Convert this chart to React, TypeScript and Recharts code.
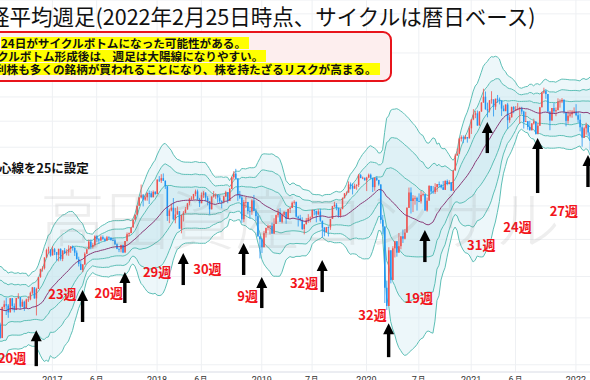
import React from 'react';
import { ComposedChart, Bar, Area, Line, XAxis, YAxis, CartesianGrid, ReferenceDot } from 'recharts';

// Nikkei 225 weekly, values in thousand yen.
// closes before the first visible week, only used to warm up the 25-week bands (2016-01-18 .. 2016-06-27)
const warmupCloses = [16.96, 17.52, 16.82, 14.95, 15.97, 16.19, 17.01, 16.94, 16.72, 17.0, 16.16, 15.82, 16.85, 17.57, 16.67, 16.11, 16.41, 16.74, 16.83, 16.64, 16.6, 15.6, 14.95, 15.68];

// visible weeks: [high, low, close]; open is taken as the previous close
const w2016 = [[15.78,15.08,15.11],[16.52,15.1,16.5],[16.81,16.38,16.63],[16.94,16.13,16.57],[16.64,16.0,16.25],[16.92,16.32,16.92],[16.92,16.35,16.55],[16.67,16.25,16.36],[16.93,16.48,16.93],[17.16,16.88,16.97],[16.94,16.4,16.52],[16.86,16.5,16.75],[16.8,16.32,16.45],[16.9,16.51,16.86],[17.02,16.74,16.86],[17.24,16.82,17.18],[17.47,17.1,17.45],[17.43,16.9,16.91],[17.43,16.11,17.37],[17.97,17.53,17.97],[18.4,17.93,18.38],[18.53,18.25,18.43],[19.0,18.36,19.0],[19.48,18.98,19.4],[19.59,19.21,19.43],[19.45,19.04,19.11]];
const w2017 = [[19.62,19.3,19.45],[19.52,19.13,19.29],[19.3,18.82,19.14],[19.48,18.79,19.47],[19.5,18.83,18.92],[19.39,18.8,19.38],[19.52,19.19,19.23],[19.45,19.11,19.28],[19.67,19.09,19.47],[19.62,19.25,19.6],[19.66,19.37,19.52],[19.57,19.08,19.26],[19.38,18.89,18.91],[19.04,18.52,18.66],[18.83,18.33,18.34],[18.65,18.22,18.62],[19.28,18.78,19.2],[19.45,19.23,19.45],[19.99,19.77,19.88],[19.99,19.45,19.59],[19.81,19.49,19.69],[20.24,19.6,20.18],[20.24,19.85,20.01],[20.08,19.75,19.94],[20.23,19.9,20.13],[20.23,19.96,20.03],[20.1,19.86,19.93],[20.2,19.94,20.12],[20.18,19.98,20.1],[20.12,19.94,19.96],[20.08,19.91,19.95],[20.06,19.68,19.73],[19.78,19.45,19.47],[19.5,19.29,19.45],[19.69,19.28,19.69],[19.62,19.24,19.27],[19.91,19.26,19.91],[20.4,19.88,20.3],[20.4,20.16,20.36],[20.7,20.4,20.69],[21.16,20.81,21.16],[21.46,21.22,21.46],[22.01,21.68,22.01],[22.54,22.05,22.54],[23.38,22.47,22.68],[22.76,21.97,22.4],[22.68,22.32,22.55],[22.87,22.33,22.82],[22.99,22.12,22.81],[22.94,22.54,22.55],[22.99,22.63,22.9],[22.94,22.71,22.76]];
const w2018 = [[23.73,23.07,23.71],[23.95,23.55,23.65],[24.08,23.49,23.81],[24.13,23.63,23.63],[23.66,23.09,23.27],[23.16,21.08,21.38],[21.83,20.95,21.72],[22.15,21.66,21.89],[22.5,21.14,21.18],[21.88,20.94,21.47],[21.97,21.46,21.68],[21.59,20.62,20.62],[21.45,20.35,21.45],[21.68,21.05,21.57],[21.93,21.54,21.78],[22.19,21.77,22.16],[22.48,22.04,22.47],[22.61,22.38,22.47],[22.77,22.39,22.76],[23.05,22.61,22.93],[23.05,22.35,22.45],[22.51,21.93,22.17],[22.86,22.3,22.69],[22.95,22.5,22.85],[22.87,22.28,22.52],[22.62,22.04,22.3],[22.3,21.46,21.79],[22.6,21.83,22.6],[22.95,22.53,22.7],[22.8,22.45,22.71],[22.64,22.21,22.53],[22.7,22.18,22.3],[22.36,21.85,22.27],[22.64,22.17,22.6],[22.97,22.57,22.87],[22.78,22.17,22.31],[23.15,22.42,23.09],[23.91,23.08,23.87],[24.29,23.71,24.12],[24.45,23.73,23.78],[23.59,22.32,22.69],[22.96,22.43,22.53],[22.72,20.97,21.18],[22.39,21.0,22.24],[22.58,21.87,22.25],[22.06,21.48,21.68],[21.87,21.24,21.65],[22.43,21.45,22.35],[22.7,21.68,21.68],[21.84,21.09,21.37],[21.57,20.17,20.17],[20.21,18.95,20.01]];
const w2019 = [[20.07,19.24,19.56],[20.49,19.87,20.36],[20.67,20.11,20.67],[20.87,20.52,20.77],[20.83,20.29,20.79],[20.98,20.33,20.33],[21.24,20.4,20.9],[21.46,21.06,21.43],[21.82,21.29,21.6],[21.86,21.03,21.03],[21.55,20.94,21.45],[21.67,21.37,21.63],[21.4,20.91,21.21],[21.82,21.35,21.81],[21.92,21.56,21.87],[22.28,21.93,22.2],[22.36,22.08,22.26],[22.19,21.28,21.34],[21.4,20.75,21.25],[21.45,21.06,21.12],[21.3,20.55,20.6],[20.9,20.29,20.88],[21.26,20.95,21.12],[21.49,20.97,21.26],[21.35,21.0,21.28],[21.78,21.5,21.75],[21.7,21.42,21.69],[21.7,21.0,21.47],[21.8,21.45,21.66],[21.82,21.03,21.09],[21.1,20.11,20.68],[20.72,20.18,20.42],[20.72,20.47,20.71],[20.76,20.17,20.7],[21.2,20.55,21.2],[22.0,21.25,21.99],[22.26,21.91,22.08],[22.18,21.73,21.88],[21.89,21.28,21.41],[21.83,21.28,21.8],[22.54,22.08,22.49],[22.82,22.48,22.8],[22.93,22.67,22.85],[23.59,22.85,23.39],[23.52,23.06,23.3],[23.46,22.73,23.11],[23.44,23.18,23.29],[23.41,23.04,23.35],[24.1,23.22,24.02],[24.09,23.8,23.82],[23.92,23.74,23.84]];
const w2020 = [[23.81,23.66,23.66],[23.9,22.95,23.85],[24.12,23.8,24.04],[24.12,23.72,23.83],[23.66,22.89,23.21],[23.87,22.97,23.83],[23.94,23.62,23.69],[23.69,23.3,23.39],[23.11,20.92,21.14],[21.44,20.29,20.75],[20.35,16.69,17.43],[17.79,16.36,16.55],[19.56,16.78,19.39],[19.31,17.65,17.82],[19.62,18.0,19.5],[19.92,19.0,19.9],[19.7,19.04,19.26],[20.37,19.37,19.62],[20.18,19.45,20.18],[20.57,19.8,20.04],[20.6,20.0,20.39],[21.92,20.7,21.88],[23.18,21.92,22.86],[23.19,21.53,22.31],[22.69,21.62,22.48],[22.65,22.08,22.51],[22.59,21.71,22.31],[22.8,22.24,22.29],[22.96,22.15,22.7],[22.86,22.61,22.75],[22.73,21.71,21.71],[22.53,21.64,22.33],[23.34,22.43,23.29],[23.28,22.77,22.92],[23.28,22.77,22.88],[23.47,22.76,23.21],[23.41,22.9,23.41],[23.58,23.2,23.36],[23.4,23.12,23.2],[23.62,23.03,23.03],[23.67,23.19,23.62],[23.72,23.33,23.41],[23.67,23.4,23.52],[23.54,22.95,22.98],[24.33,22.95,24.33],[25.52,24.4,25.39],[25.91,25.42,25.53],[26.71,25.56,26.64],[26.89,26.43,26.75],[26.89,26.3,26.65],[26.91,26.59,26.76],[26.77,26.34,26.66],[27.6,26.66,27.44]];
const w2021 = [[28.14,27.0,28.14],[28.98,28.08,28.52],[28.82,28.24,28.63],[28.86,27.63,27.66],[28.8,27.81,28.78],[29.56,28.76,29.52],[30.71,29.86,30.02],[30.47,28.93,28.97],[29.52,28.31,28.86],[29.72,28.7,29.72],[30.49,29.43,29.79],[29.59,28.38,29.18],[29.85,28.92,29.85],[30.17,29.5,29.77],[29.95,29.37,29.68],[29.72,28.42,29.02],[29.28,28.82,28.81],[29.36,28.82,29.36],[29.5,27.39,28.08],[28.5,27.87,28.32],[29.19,28.28,29.15],[29.23,28.64,28.94],[29.23,28.82,28.95],[29.48,28.9,28.96],[29.17,27.8,29.07],[29.17,28.57,28.78],[28.85,27.42,27.94],[28.76,27.95,28.0],[27.83,27.33,27.55],[28.03,27.27,27.28],[27.85,27.3,27.82],[28.2,27.73,27.98],[27.88,26.95,27.01],[27.83,27.12,27.64],[29.16,27.77,29.13],[30.45,29.6,30.38],[30.8,30.28,30.5],[30.64,29.84,30.25],[30.24,28.66,28.77],[28.8,27.29,28.05],[29.07,28.06,29.07],[29.49,28.6,28.8],[29.11,28.4,28.89],[29.88,29.05,29.61],[29.8,29.1,29.61],[29.9,29.48,29.75],[29.8,28.6,28.75],[28.6,27.59,28.03],[28.86,27.8,28.44],[28.9,28.3,28.55],[28.89,28.28,28.78],[29.12,28.6,28.79]];
const w2022 = [[29.39,28.4,28.48],[28.77,27.89,28.12],[28.6,27.2,27.52],[27.7,26.04,26.72],[27.56,26.8,27.44],[27.88,26.95,27.7],[27.34,26.82,27.12],[26.8,25.78,26.48]];

// weeks with no trading (Golden Week 2019), skipped like the chart does
const closedWeeks = ['2019-04-29'];

// x-axis labels
const tickDates = ['2017-01-02', '2017-06-05', '2018-01-01', '2018-06-04', '2018-12-31', '2019-07-01', '2020-01-06', '2020-07-06', '2021-01-04', '2021-06-07', '2022-01-03'];
const tickLabels = ['2017', '6月', '2018', '6月', '2019', '7月', '2020', '7月', '2021', '6月', '2022'];

// cycle-low arrows: week, price at the arrow tip, arrow length
const arrowDates = ['2016-11-07', '2017-04-17', '2017-09-11', '2018-04-02', '2018-10-29', '2018-12-31', '2019-08-05', '2020-03-23', '2020-07-27', '2021-03-01', '2021-08-23', '2022-02-14'];
const arrowPrices = [15.45, 17.32, 18.23, 19.24, 19.8, 17.97, 18.86, 15.76, 20.54, 27.93, 26.69, 25.43];
const arrowLens = [36, 32, 31, 32, 32, 31, 32, 34, 32, 31, 55, 32];

// cycle length labels
const cycleLabels = ['20週', '23週', '20週', '29週', '30週', '9週', '32週', '32週', '19週', '31週', '24週', '27週'];
const cycleDates = ['2016-08-15', '2017-02-06', '2017-07-17', '2018-01-01', '2018-06-25', '2018-11-12', '2019-06-03', '2020-01-27', '2020-07-06', '2021-02-08', '2021-06-14', '2021-11-22'];
const cyclePrices = [14.31, 17.17, 17.22, 18.28, 18.39, 17.03, 17.67, 16.17, 16.93, 19.74, 20.77, 21.74];

const gridPrices = [14, 15, 16, 17, 18, 19, 20, 22, 24, 26, 28, 30, 32, 34, 36, 38];

const UP = '#ef5350';
const DOWN = '#2196f3';
const BAND = '#5dbfb6';

const bars = [...w2016, ...w2017, ...w2018, ...w2019, ...w2020, ...w2021, ...w2022];
const closes = [...warmupCloses, ...bars.map((b) => b[2])];

const dates: string[] = [];
{
  let t = Date.UTC(2016, 0, 18);
  while (dates.length < closes.length) {
    const d = new Date(t).toISOString().slice(0, 10);
    if (!closedWeeks.includes(d)) dates.push(d);
    t += 7 * 86400000;
  }
}

const rows = bars.map((b, k) => {
  const j = k + warmupCloses.length;
  const win = closes.slice(j - 24, j + 1);
  const mean = win.reduce((s, v) => s + v, 0) / win.length;
  const sd = Math.sqrt(win.reduce((s, v) => s + (v - mean) ** 2, 0) / win.length);
  const o = closes[j - 1];
  const c = b[2];
  const h = Math.max(b[0], o, c);
  const l = Math.min(b[1], o, c);
  return {
    date: dates[j],
    o, h, l, c,
    range: [l, h],
    mid: mean,
    b1: [mean - sd, mean + sd],
    b2: [mean - 2 * sd, mean + 2 * sd],
    b3: [mean - 3 * sd, mean + 3 * sd],
  };
});

const Candle = (props: any) => {
  const { x, y, width, height, payload } = props;
  if (!payload || !Number.isFinite(y)) return null;
  const { o, h, l, c } = payload;
  const lh = Math.log(h);
  const span = lh - Math.log(l) || 1;
  const py = (v: number) => y + (height * (lh - Math.log(v))) / span;
  const cx = x + width / 2;
  const color = c >= o ? UP : DOWN;
  const top = py(Math.max(o, c));
  const bot = py(Math.min(o, c));
  return (
    <g>
      <line x1={cx} x2={cx} y1={y} y2={y + height} stroke={color} strokeWidth={0.8} />
      <rect x={cx - 0.75} y={top} width={1.5} height={Math.max(bot - top, 0.8)} fill={color} />
    </g>
  );
};

const Tick = (props: any) => {
  const { x, payload } = props;
  const i = tickDates.indexOf(payload.value);
  return (
    <text x={x} y={383} textAnchor="middle" fontSize={9} fill="#333" fontFamily="Roboto, sans-serif">
      {i >= 0 ? tickLabels[i] : ''}
    </text>
  );
};

const arrowShape = (len: number) => (p: any) => {
  const { cx, cy } = p;
  const hw = 5.5;
  const hh = 11;
  const sw = 3.4;
  return (
    <g>
      <rect x={cx - sw / 2} y={cy + hh - 1} width={sw} height={len - hh + 1} fill="#000" />
      <polygon points={`${cx},${cy} ${cx - hw},${cy + hh} ${cx + hw},${cy + hh}`} fill="#000" />
    </g>
  );
};

const labelShape = (text: string) => (p: any) => (
  <text
    x={p.cx}
    y={p.cy}
    textAnchor="middle"
    dominantBaseline="central"
    fontSize={13}
    fontWeight="bold"
    fill="#f2141b"
    fontFamily='"Noto Sans CJK JP", sans-serif'
  >
    {text}
  </text>
);

const jp = '"Noto Sans CJK JP", "Noto Sans CJK SC", sans-serif';

const hl = (left: number, top: number, text: string) => (
  <div
    style={{
      position: 'absolute',
      left,
      top,
      height: 12,
      lineHeight: '12px',
      fontSize: 11.6,
      fontWeight: 'bold',
      color: '#111',
      background: '#ffff00',
      whiteSpace: 'nowrap',
      paddingRight: 3,
    }}
  >
    {text}
  </div>
);

export default function App() {
  return (
    <div
      style={{
        position: 'fixed',
        left: 0,
        top: 0,
        width: 590,
        height: 380,
        overflow: 'hidden',
        background: '#fff',
        fontFamily: jp,
      }}
    >
      <div style={{ position: 'absolute', left: -0.75, top: 0 }}>
        <ComposedChart width={592} height={400} data={rows} margin={{ top: 0, right: 0, bottom: 0, left: 0 }}>
          <CartesianGrid stroke="#eef0f3" />
          <XAxis
            dataKey="date"
            ticks={tickDates}
            interval={0}
            height={28}
            tickLine={false}
            axisLine={{ stroke: '#e0e3eb' }}
            tick={<Tick />}
          />
          <YAxis hide type="number" scale="log" domain={[13.715, 39.53]} allowDataOverflow ticks={gridPrices} />
          <Area dataKey="b3" stroke={BAND} strokeWidth={1} fill="#d8eef5" fillOpacity={0.45} isAnimationActive={false} dot={false} activeDot={false} />
          <Area dataKey="b2" stroke={BAND} strokeWidth={1} fill="#c6e6ee" fillOpacity={0.35} isAnimationActive={false} dot={false} activeDot={false} />
          <Area dataKey="b1" stroke={BAND} strokeWidth={1} fill="#c6e6ee" fillOpacity={0.35} isAnimationActive={false} dot={false} activeDot={false} />
          <Line dataKey="mid" stroke="#8a3b78" strokeWidth={1} dot={false} activeDot={false} isAnimationActive={false} />
          <Bar dataKey="range" shape={<Candle />} isAnimationActive={false} />
          {arrowDates.map((d, i) => (
            <ReferenceDot key={'a' + i} x={d} y={arrowPrices[i]} r={1} ifOverflow="visible" shape={arrowShape(arrowLens[i])} />
          ))}
          {cycleDates.map((d, i) => (
            <ReferenceDot key={'l' + i} x={d} y={cyclePrices[i]} r={1} ifOverflow="visible" shape={labelShape(cycleLabels[i])} />
          ))}
        </ComposedChart>
      </div>

      {/* watermark */}
      <div
        style={{
          position: 'absolute',
          left: 40,
          top: 180,
          fontSize: 65,
          lineHeight: '72px',
          fontWeight: 300,
          color: 'rgba(120,120,120,0.13)',
          whiteSpace: 'nowrap',
          pointerEvents: 'none',
        }}
      >
        高田資産コンサル
      </div>

      {/* title */}
      <div style={{ position: 'absolute', left: -12, top: 4, fontSize: 21.5, lineHeight: '24px', color: '#111', whiteSpace: 'nowrap' }}>
        経平均週足(2022年2月25日時点、サイクルは暦日ベース)
      </div>

      {/* note box */}
      <div
        style={{
          position: 'absolute',
          left: -12,
          top: 31,
          width: 400,
          height: 47,
          border: '2px solid #e8141b',
          borderRadius: 9,
          background: '#fdeeee',
        }}
      />
      {hl(1, 37, '24日がサイクルボトムになった可能性がある。')}
      {hl(-3, 50, 'クルボトム形成後は、週足は大陽線になりやすい。')}
      {hl(-5, 63, '利株も多くの銘柄が買われることになり、株を持たざるリスクが高まる。')}

      <div style={{ position: 'absolute', left: -1, top: 160, fontSize: 12.5, lineHeight: '16px', fontWeight: 'bold', color: '#111', whiteSpace: 'nowrap' }}>
        心線を25に設定
      </div>
    </div>
  );
}
